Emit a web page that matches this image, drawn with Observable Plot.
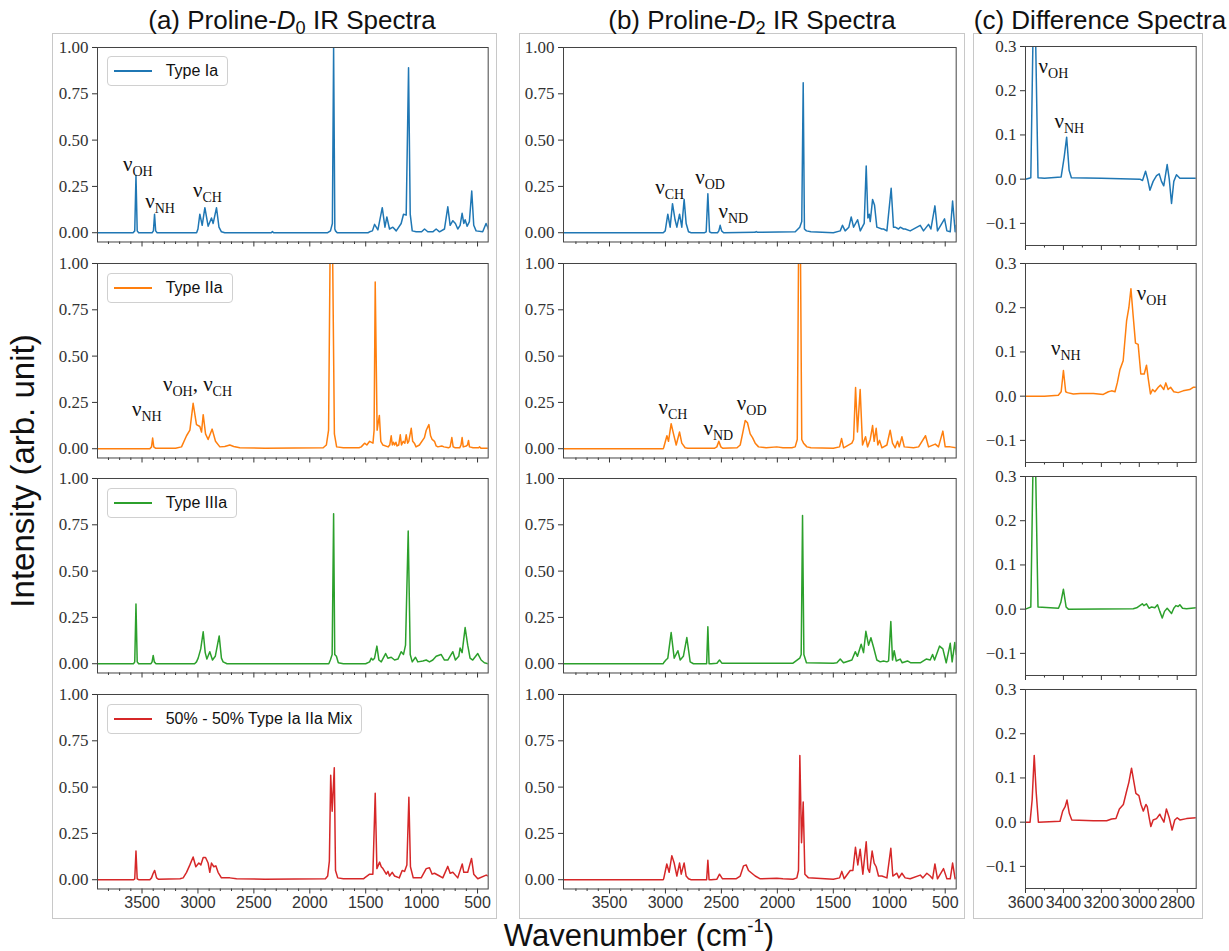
<!DOCTYPE html>
<html><head><meta charset="utf-8">
<script src="https://cdn.jsdelivr.net/npm/d3@7"></script>
<script src="https://cdn.jsdelivr.net/npm/@observablehq/plot@0.6"></script>
<style>
body{margin:0;background:#fff;}
#fig{position:relative;width:1229px;height:951px;overflow:hidden;background:#fff;font-family:"Liberation Sans",Arial,sans-serif;color:#111;}
.box{position:absolute;border:1px solid #c8c8c8;box-sizing:border-box;}
.title{position:absolute;font-size:26px;line-height:1;white-space:nowrap;transform:translateX(-50%);}
.title sub{font-size:0.7em;vertical-align:-0.25em;line-height:0;}
.axlab{position:absolute;line-height:1;white-space:nowrap;}
.axlab sup{font-size:0.6em;vertical-align:0.7em;line-height:0;}
#fig svg{position:absolute;}
svg g[aria-label="y-axis tick label"]{font-family:"Liberation Serif",serif;font-size:17px;}
svg g[aria-label="x-axis tick label"]{font-family:"Liberation Sans",sans-serif;font-size:16px;}
.legend{position:absolute;height:30px;box-sizing:border-box;border:1px solid #d0d0d0;border-radius:4px;background:rgba(255,255,255,0.85);display:flex;align-items:center;padding:0 9px 0 6px;font-size:16px;white-space:nowrap;color:#111;}
.legend .sw{width:38px;height:2px;margin-right:14px;}
</style></head><body><div id="fig"></div><script>
// ---------- data: [wavenumber (cm-1), intensity] ----------
const d0_typeIa = [[3898,0],[3580,0],[3565,0.01],[3554,0.31],[3543,0.01],[3530,0],
[3410,0],[3398,0.01],[3388,0.10],[3378,0.01],[3365,0],
[3012,0],[3000,0.02],[2983,0.10],[2962,0.04],[2938,0.135],[2909,0.035],[2879,0.08],[2864,0.05],[2834,0.135],[2812,0.03],[2790,0.005],[2760,0],
[2345,0],[2334,0.006],[2323,0],
[1840,0],[1815,0.01],[1798,0.05],[1787,1.0],[1776,0.02],[1770,0.01],[1755,0],
[1480,0],[1465,0.005],[1440,0.01],[1421,0.045],[1391,0.015],[1352,0.135],[1328,0.03],[1311,0.085],[1287,0.02],[1257,0.03],[1227,0.01],[1183,0.05],[1162,0.10],[1138,0.095],[1117,0.89],[1102,0.1],[1084,0.01],[1049,0.005],[1000,0.005],[974,0.02],[945,0.005],[900,0.005],[870,0.02],[840,0.005],[796,0.02],[766,0.14],[745,0.04],[721,0.065],[698,0.05],[677,0.02],[656,0.04],[638,0.105],[623,0.05],[611,0.07],[593,0.035],[573,0.06],[552,0.225],[534,0.04],[513,0.01],[454,0.005],[424,0.05],[409,0.03],[405,0.02]];

const d0_typeIIa = [[3898,0],[3430,0],[3415,0.01],[3405,0.058],[3395,0.01],[3380,0.003],
[3200,0.003],[3147,0.01],[3102,0.07],[3072,0.10],[3043,0.245],[3013,0.13],[2983,0.12],[2968,0.09],[2953,0.184],[2932,0.08],[2909,0.05],[2873,0.106],[2843,0.04],[2804,0.01],[2760,0.012],[2715,0.02],[2680,0.012],[2626,0.005],[2400,0.003],
[1880,0.005],[1852,0.02],[1832,0.1],[1808,1.8],[1780,0.08],[1760,0.01],[1700,0.005],
[1560,0.005],[1540,0.01],[1510,0.03],[1490,0.02],[1465,0.04],[1435,0.03],[1425,0.1],[1415,0.90],[1398,0.10],[1378,0.18],[1365,0.04],[1346,0.02],[1300,0.01],[1285,0.02],[1272,0.07],[1262,0.02],[1252,0.035],[1242,0.02],[1230,0.035],[1220,0.015],[1205,0.02],[1191,0.075],[1180,0.02],[1165,0.04],[1150,0.03],[1138,0.075],[1125,0.03],[1115,0.04],[1093,0.11],[1080,0.04],[1065,0.03],[1050,0.01],[1020,0.02],[975,0.06],[959,0.10],[935,0.13],[920,0.07],[906,0.05],[885,0.04],[870,0.015],[855,0.01],[820,0.015],[800,0.01],[760,0.005],[745,0.01],[730,0.06],[718,0.01],[700,0.005],[660,0.005],[648,0.02],[638,0.06],[628,0.01],[600,0.015],[590,0.02],[581,0.045],[572,0.01],[540,0.005],[490,0.005],[483,0.01],[470,0.003],[405,0.003]];

const d0_typeIIIa = [[3898,0],[3575,0],[3565,0.01],[3554,0.322],[3543,0.01],[3530,0],
[3420,0],[3410,0.01],[3400,0.045],[3390,0.01],[3375,0],
[3030,0],[3013,0.01],[2998,0.03],[2975,0.08],[2953,0.172],[2935,0.06],[2920,0.025],[2894,0.065],[2870,0.02],[2845,0.04],[2810,0.15],[2790,0.03],[2775,0.01],[2740,0],
[1830,0],[1816,0.02],[1800,0.05],[1787,0.81],[1777,0.05],[1762,0.04],[1745,0.005],[1700,0],
[1500,0],[1465,0.01],[1450,0.03],[1436,0.02],[1421,0.03],[1400,0.095],[1382,0.02],[1361,0.01],[1322,0.055],[1302,0.03],[1272,0.035],[1242,0.02],[1212,0.025],[1183,0.065],[1162,0.05],[1144,0.1],[1120,0.716],[1102,0.05],[1084,0.01],[1055,0.035],[1034,0.01],[989,0.015],[959,0.02],[930,0.01],[900,0.02],[870,0.04],[826,0.05],[796,0.02],[766,0.02],[721,0.065],[698,0.02],[668,0.04],[656,0.085],[638,0.06],[611,0.195],[588,0.1],[567,0.03],[543,0.02],[498,0.055],[468,0.02],[439,0.005],[405,0]];

const d0_mix = [[3898,0],[3575,0],[3565,0.005],[3554,0.155],[3543,0.005],[3530,0],
[3430,0],[3415,0.01],[3400,0.035],[3387,0.05],[3370,0.01],[3355,0.003],
[3160,0.005],[3132,0.01],[3102,0.04],[3072,0.08],[3043,0.123],[3019,0.07],[2992,0.09],[2974,0.08],[2953,0.12],[2932,0.12],[2909,0.09],[2894,0.04],[2879,0.09],[2858,0.07],[2840,0.075],[2820,0.04],[2790,0.01],[2715,0.01],[2655,0.005],[2400,0.003],
[1860,0.005],[1840,0.02],[1825,0.1],[1813,0.564],[1800,0.37],[1781,0.604],[1770,0.05],[1750,0.01],[1700,0.005],
[1520,0.005],[1510,0.01],[1465,0.03],[1436,0.03],[1415,0.467],[1400,0.06],[1376,0.095],[1361,0.07],[1346,0.06],[1316,0.03],[1301,0.045],[1287,0.02],[1263,0.04],[1242,0.02],[1200,0.01],[1174,0.05],[1153,0.045],[1132,0.08],[1114,0.445],[1100,0.07],[1075,0.01],[1004,0.01],[959,0.06],[930,0.065],[906,0.03],[885,0.035],[840,0.02],[811,0.01],[766,0.072],[745,0.035],[721,0.04],[677,0.01],[637,0.085],[623,0.04],[588,0.04],[554,0.115],[534,0.03],[498,0.005],[423,0.025],[405,0.02]];

const d2_typeIa = [[3911,0],[3020,0],[3002,0.01],[2979,0.10],[2958,0.03],[2937,0.157],[2914,0.07],[2898,0.03],[2874,0.10],[2854,0.03],[2833,0.18],[2815,0.05],[2794,0.005],[2770,0],
[2650,0],[2636,0.005],[2621,0.21],[2606,0.005],[2590,0],
[2535,0],[2523,0.01],[2511,0.04],[2498,0.01],[2480,0],
[2200,0.002],[2189,0.006],[2178,0.002],
[1840,0.005],[1800,0.03],[1782,0.06],[1769,0.81],[1758,0.02],[1740,0.01],[1700,0.005],[1500,0],
[1438,0.01],[1418,0.04],[1394,0.01],[1361,0.03],[1340,0.085],[1319,0.03],[1283,0.07],[1259,0.01],[1224,0.05],[1206,0.36],[1191,0.08],[1179,0.1],[1170,0.06],[1149,0.18],[1132,0.15],[1111,0.03],[1066,0.02],[1051,0.02],[1021,0.01],[983,0.24],[962,0.03],[947,0.03],[917,0.02],[902,0.03],[873,0.02],[858,0.02],[813,0.01],[723,0.04],[694,0.01],[649,0.045],[628,0.02],[592,0.145],[569,0.01],[506,0.075],[485,0.01],[455,0.005],[434,0.171],[411,0.005],[402,0.04]];

const d2_typeIIa = [[3911,0],[3020,0],[3016,0.005],[2987,0.07],[2973,0.04],[2949,0.135],[2928,0.08],[2904,0.02],[2874,0.09],[2854,0.03],[2824,0.005],[2800,0.003],
[2560,0.003],[2541,0.01],[2523,0.04],[2505,0.01],[2490,0.003],
[2360,0.005],[2332,0.02],[2308,0.09],[2287,0.153],[2267,0.14],[2243,0.08],[2222,0.06],[2198,0.03],[2168,0.01],[2100,0.005],[2005,0.01],[1950,0.005],
[1870,0.005],[1841,0.01],[1822,0.05],[1802,1.8],[1782,0.05],[1766,0.03],[1736,0.01],[1700,0.005],
[1500,0.003],[1444,0.01],[1426,0.055],[1408,0.005],[1334,0.03],[1319,0.05],[1301,0.33],[1284,0.09],[1260,0.32],[1239,0.02],[1212,0.065],[1194,0.01],[1170,0.05],[1149,0.125],[1135,0.04],[1117,0.11],[1102,0.02],[1087,0.045],[1066,0.005],[1021,0.02],[992,0.10],[971,0.03],[947,0.005],[926,0.04],[911,0.01],[887,0.065],[866,0.01],[783,0.005],[738,0.01],[676,0.07],[649,0.01],[589,0.025],[560,0.01],[521,0.095],[500,0.01],[455,0.01],[402,0.005]];

const d2_typeIIIa = [[3911,0],[3020,0],[3016,0.005],[2996,0.02],[2979,0.03],[2949,0.168],[2922,0.03],[2889,0.07],[2868,0.02],[2840,0.04],[2809,0.141],[2779,0.01],[2750,0],
[2650,0],[2632,0],[2621,0.20],[2610,0],[2590,0],
[2540,0.003],[2517,0.02],[2496,0.003],
[1860,0.003],[1800,0.03],[1787,0.05],[1775,0.80],[1763,0.05],[1740,0.005],
[1500,0.003],[1468,0.005],[1438,0.025],[1409,0.005],[1334,0.02],[1304,0.065],[1284,0.04],[1251,0.105],[1230,0.06],[1209,0.175],[1185,0.1],[1164,0.14],[1141,0.09],[1111,0.02],[1081,0.01],[1051,0.015],[1021,0.01],[1006,0.015],[986,0.228],[971,0.02],[956,0.07],[938,0.015],[902,0.025],[884,0.005],[837,0.015],[807,0.005],[723,0.005],[670,0.025],[634,0.02],[613,0.05],[595,0.02],[551,0.095],[521,0.08],[491,0.005],[455,0.11],[438,0.01],[414,0.115],[402,0.05]];

const d2_mix = [[3911,0],[3020,0],[3016,0.005],[2988,0.085],[2967,0.04],[2943,0.13],[2922,0.09],[2898,0.02],[2874,0.09],[2859,0.03],[2833,0.09],[2815,0.02],[2794,0.005],[2770,0],
[2650,0],[2632,0],[2621,0.105],[2610,0],[2590,0],
[2540,0.003],[2517,0.03],[2490,0.005],
[2370,0.005],[2332,0.02],[2302,0.075],[2279,0.08],[2258,0.05],[2228,0.035],[2198,0.02],[2153,0.005],[2005,0.008],[1950,0.005],
[1860,0.003],[1826,0.01],[1811,0.05],[1799,0.67],[1784,0.2],[1769,0.42],[1754,0.03],[1722,0.01],[1500,0.003],
[1444,0.01],[1424,0.045],[1403,0.005],[1349,0.05],[1325,0.05],[1302,0.175],[1281,0.08],[1260,0.165],[1236,0.03],[1206,0.205],[1191,0.06],[1176,0.04],[1153,0.155],[1135,0.09],[1117,0.07],[1096,0.02],[1066,0.02],[1021,0.01],[986,0.17],[968,0.02],[932,0.035],[914,0.01],[887,0.035],[858,0.01],[813,0.005],[723,0.025],[700,0.01],[664,0.035],[634,0.02],[613,0.005],[592,0.085],[569,0.005],[515,0.06],[485,0.005],[455,0.005],[434,0.09],[411,0.005],[402,0.01]];

const diff_typeIa = [[3600,0],[3572,0.003],[3554,0.5],[3534,0.003],[3500,0.002],[3412,0.005],[3396,0.05],[3383,0.095],[3370,0.02],[3358,0.003],[3200,0.002],[2997,0],[2983,-0.003],[2967,0.018],[2956,0],[2944,-0.025],[2927,-0.005],[2909,0.008],[2895,0.012],[2883,-0.005],[2871,-0.015],[2853,0.033],[2842,0],[2830,-0.055],[2818,-0.005],[2804,0.01],[2786,0.002],[2700,0.002]];

const diff_typeIIa = [[3600,0],[3500,0],[3427,0.002],[3412,0.01],[3400,0.058],[3388,0.01],[3379,0.008],[3348,0.005],[3312,0.006],[3242,0.006],[3190,0.004],[3163,0.01],[3146,0.012],[3128,0.01],[3116,0.03],[3102,0.06],[3085,0.08],[3067,0.17],[3055,0.2],[3044,0.243],[3032,0.18],[3020,0.12],[3006,0.117],[2992,0.05],[2974,0.05],[2962,0.07],[2953,0.04],[2941,0.005],[2930,0.015],[2918,0.01],[2900,0.02],[2888,0.025],[2871,0.015],[2860,0.03],[2848,0.015],[2835,0.02],[2818,0.01],[2795,0.008],[2769,0.012],[2734,0.015],[2716,0.02],[2700,0.02]];

const diff_typeIIIa = [[3600,0],[3584,0.003],[3572,0.005],[3554,0.5],[3534,0.005],[3426,0.002],[3414,0.015],[3400,0.045],[3386,0.005],[3374,0],[3032,0.001],[3014,0.003],[2997,0.008],[2984,0.012],[2976,0.008],[2962,0.012],[2948,0.002],[2935,0.005],[2918,0.003],[2904,0.01],[2892,-0.005],[2879,-0.02],[2867,-0.005],[2853,0.002],[2830,-0.01],[2818,0.002],[2807,0.008],[2795,0.006],[2786,0.01],[2772,0.002],[2751,0.001],[2700,0.003]];

const diff_mix = [[3600,0],[3576,0],[3565,0.05],[3554,0.151],[3544,0.07],[3532,0],[3418,0.002],[3404,0.025],[3391,0.035],[3381,0.05],[3369,0.02],[3356,0.005],[3242,0.003],[3172,0.003],[3146,0.007],[3123,0.008],[3105,0.03],[3084,0.04],[3067,0.07],[3055,0.09],[3041,0.122],[3028,0.09],[3018,0.065],[3002,0.06],[2991,0.04],[2979,0.025],[2965,0.04],[2958,0.035],[2948,0.01],[2939,-0.01],[2927,0.005],[2909,0.008],[2892,0.018],[2883,0.01],[2870,0],[2857,0.03],[2842,0.01],[2827,-0.018],[2813,0.005],[2800,0.01],[2786,0.005],[2751,0.008],[2700,0.01]];

// annotations: [wavenumber, intensity (text baseline), label]
const ann_d0_Ia = [[3671,0.333,"ν_OH"],[3472,0.135,"ν_NH"],[3045,0.195,"ν_CH"]];
const ann_d0_IIa = [[3590,0.175,"ν_NH"],[3313,0.313,"ν_OH, ν_CH"]];
const ann_d2_Ia = [[3092,0.208,"ν_CH"],[2734,0.265,"ν_OD"],[2526,0.081,"ν_ND"]];
const ann_d2_IIa = [[3062,0.189,"ν_CH"],[2660,0.076,"ν_ND"],[2362,0.211,"ν_OD"]];
const ann_diff_Ia = [[3531,0.239,"ν_OH"],[3447,0.115,"ν_NH"]];
const ann_diff_IIa = [[3466,0.092,"ν_NH"],[3013,0.217,"ν_OH"]];

// ticks, labels, colours
const yTicksSpec = [0,0.25,0.5,0.75,1];
const yTicksDiff = [-0.1,0,0.1,0.2,0.3];
const xMajorSpec = [3500,3000,2500,2000,1500,1000,500];
const xMinorSpec = [3800,3700,3600,3400,3300,3200,3100,2900,2800,2700,2600,2400,2300,2200,2100,1900,1800,1700,1600,1400,1300,1200,1100,900,800,700,600];
const xMajorDiff = [3600,3400,3200,3000,2800];
const xMinorDiff = [3500,3300,3100,2900];
const legendLabels = ["Type Ia","Type IIa","Type IIIa","50% - 50% Type Ia IIa Mix"];
const seriesColors = ["#1f77b4","#ff7f0e","#2ca02c","#d62728"];

// ---------- layout ----------
const fig = document.getElementById("fig");
const cols = {
  a:{left:97.3,width:390.7,domain:[3898,405],tops:[46.7,262.7,478.3,694],h:194.5,yDomain:[-0.05,1],yTicks:yTicksSpec,fmt:".2f",xMajor:xMajorSpec,xMinor:xMinorSpec},
  b:{left:563.3,width:392.7,domain:[3911,402],tops:[46.7,262.7,478.3,694],h:194.5,yDomain:[-0.05,1],yTicks:yTicksSpec,fmt:".2f",xMajor:xMajorSpec,xMinor:xMinorSpec},
  c:{left:1025.3,width:170.7,domain:[3600,2700],tops:[46.4,262.7,476,689.4],h:199,yDomain:[-0.15,0.3],yTicks:yTicksDiff,fmt:".1f",xMajor:xMajorDiff,xMinor:xMinorDiff}
};

function addDiv(cls, html, style){
  const d=document.createElement("div"); d.className=cls; d.innerHTML=html;
  Object.assign(d.style, style); fig.appendChild(d); return d;
}
// framing boxes
addDiv("box","",{left:"52px",top:"33px",width:"445px",height:"886px"});
addDiv("box","",{left:"519px",top:"33px",width:"446px",height:"886px"});
addDiv("box","",{left:"973px",top:"33px",width:"230px",height:"886px"});

function subscriptify(svg){
  svg.querySelectorAll('g[aria-label="text"] text').forEach(t=>{
    const s=t.textContent;
    if(s.indexOf("_")<0) return;
    while(t.firstChild) t.removeChild(t.firstChild);
    let down=false;
    s.split(/(_[A-Z]+)/).forEach(p=>{
      if(!p) return;
      const ts=document.createElementNS("http://www.w3.org/2000/svg","tspan");
      if(p[0]==="_"){ts.textContent=p.slice(1);ts.setAttribute("font-size","14");ts.setAttribute("dy","5");down=true;}
      else{ts.textContent=p; if(down){ts.setAttribute("dy","-5");down=false;}}
      t.appendChild(ts);
    });
  });
}

function panel(g,row,data,color,ann){
  const ML=50,MR=10,MT=10,MB=28;
  const isBottom=row===3;
  const marks=[
    Plot.axisY(g.yTicks,{tickSize:5,tickPadding:4,tickFormat:d3.format(g.fmt),label:null}),
    Plot.axisX(g.xMajor,{tickSize:5,tickPadding:3,tickFormat:isBottom?(d=>String(d)):(()=>""),label:null}),
    Plot.axisX(g.xMinor,{tickSize:2.5,tickFormat:()=>"",label:null}),
    Plot.line(data,{x:d=>d[0],y:d=>d[1],stroke:color,strokeWidth:1.5,clip:true}),
    Plot.frame({stroke:"#444",strokeWidth:1})
  ];
  if(ann) marks.push(Plot.text(ann,{x:d=>d[0],y:d=>d[1],text:d=>d[2],textAnchor:"start",lineAnchor:"bottom",fontFamily:"Liberation Serif",fontSize:21,fill:"#111"}));
  const svg=Plot.plot({
    width:g.width+ML+MR,height:g.h+MT+MB,
    marginLeft:ML,marginRight:MR,marginTop:MT,marginBottom:MB,
    x:{domain:g.domain,label:null},
    y:{domain:g.yDomain,label:null},
    marks
  });
  svg.style.position="absolute";
  svg.style.left=(g.left-ML)+"px";
  svg.style.top=(g.tops[row]-MT)+"px";
  svg.style.background="transparent";
  svg.style.overflow="visible";
  svg.style.color="#333";
  svg.style.maxWidth="none";
  subscriptify(svg);
  fig.appendChild(svg);
}

const d0 = [d0_typeIa,d0_typeIIa,d0_typeIIIa,d0_mix];
const d2 = [d2_typeIa,d2_typeIIa,d2_typeIIIa,d2_mix];
const df = [diff_typeIa,diff_typeIIa,diff_typeIIIa,diff_mix];
const annA=[ann_d0_Ia,ann_d0_IIa,null,null];
const annB=[ann_d2_Ia,ann_d2_IIa,null,null];
const annC=[ann_diff_Ia,ann_diff_IIa,null,null];
for(let r=0;r<4;r++){
  panel(cols.a,r,d0[r],seriesColors[r],annA[r]);
  panel(cols.b,r,d2[r],seriesColors[r],annB[r]);
  panel(cols.c,r,df[r],seriesColors[r],annC[r]);
}

// titles
addDiv("title","(a) Proline-<i>D</i><sub>0</sub> IR Spectra",{left:"292px",top:"7px"});
addDiv("title","(b) Proline-<i>D</i><sub>2</sub> IR Spectra",{left:"752px",top:"7px"});
addDiv("title","(c) Difference Spectra",{left:"1100px",top:"7px"});
// axis labels
addDiv("axlab","Intensity (arb. unit)",{left:"22px",top:"471px",fontSize:"33px",transform:"translate(-50%,-50%) rotate(-90deg)"});
addDiv("axlab","Wavenumber (cm<sup>-1</sup>)",{left:"639px",top:"935px",fontSize:"31px",transform:"translate(-50%,-50%)"});

// legends
const legTops=[56,272.7,488,704];
legendLabels.forEach((lab,i)=>{
  addDiv("legend",`<span class="sw" style="background:${seriesColors[i]}"></span><span>${lab}</span>`,{left:"106.7px",top:legTops[i]+"px"});
});
</script></body></html>
